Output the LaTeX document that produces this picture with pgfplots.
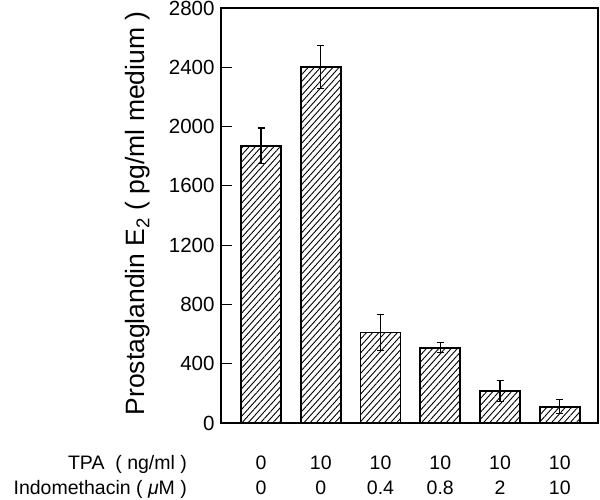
\documentclass[border=0pt]{standalone}
\usepackage{fontspec}
\setmainfont{Liberation Sans}
\usepackage{pgfplots}
\pgfplotsset{compat=1.18}
\usetikzlibrary{patterns.meta}
\begin{document}
\begin{tikzpicture}
\begin{axis}[
 scale only axis, width=377pt, height=415pt,
 xmin=-0.67, xmax=5.64, ymin=0, ymax=2800,
 ytick={0,400,...,2800},
 xtick={0,1,2,3,4,5},
 xticklabels={{\strut 0\\\strut 0},{\strut 10\\\strut 0},{\strut 10\\\strut 0.4},{\strut 10\\\strut 0.8},{\strut 10\\\strut 2},{\strut 10\\\strut 10}},
 x tick style={draw=none},
 ytick pos=left, tick align=inside, major tick length=11pt,
 y tick style={line width=1.2pt, black},
 axis line style={line width=1.6pt},
 /pgf/number format/assume math mode=true,
 /pgf/number format/1000 sep={},
 yticklabel={\fontsize{20.5}{24}\selectfont\pgfmathprintnumber{\tick}},
 yticklabel style={xshift=-3pt},
 xticklabel style={font=\fontsize{19.5}{25}\selectfont, align=center, inner sep=0pt, anchor=north, yshift=-28.3pt},
 ylabel={Prostaglandin E\textsubscript{2} ( pg/ml medium )},
 ylabel style={font=\fontsize{26.5}{30}\selectfont, at={(axis description cs:-0.22,0.505)}, anchor=center},
 clip=false,
]
\addplot[ybar, bar width=40pt, draw=black, line width=1.6pt,
 pattern={Lines[angle=48,distance=4.6pt,line width=0.9pt]},
 error bars/.cd, y dir=both, y explicit,
 error bar style={line width=1.2pt, black},
 error mark options={rotate=90, mark size=3.5pt, line width=1.2pt, black}]
 coordinates {
 (0,1870) +- (0,120)
 (1,2400) +- (0,145)
 (2,610) +- (0,120)
 (3,508) +- (0,34)
 (4,215) +- (0,72)
 (5,110) +- (0,48)
 };
\node[font=\fontsize{19.5}{25}\selectfont, align=right, inner sep=0pt, anchor=north east]
 at (axis description cs:-0.09,0) [yshift=-28.3pt]
 {\strut TPA\ \ ( ng/ml )\\\strut Indomethacin ( \textit{μ}M )};
\end{axis}
\pgfresetboundingbox
\useasboundingbox (-221pt,-76pt) rectangle (379pt,423pt);
\end{tikzpicture}
\end{document}
